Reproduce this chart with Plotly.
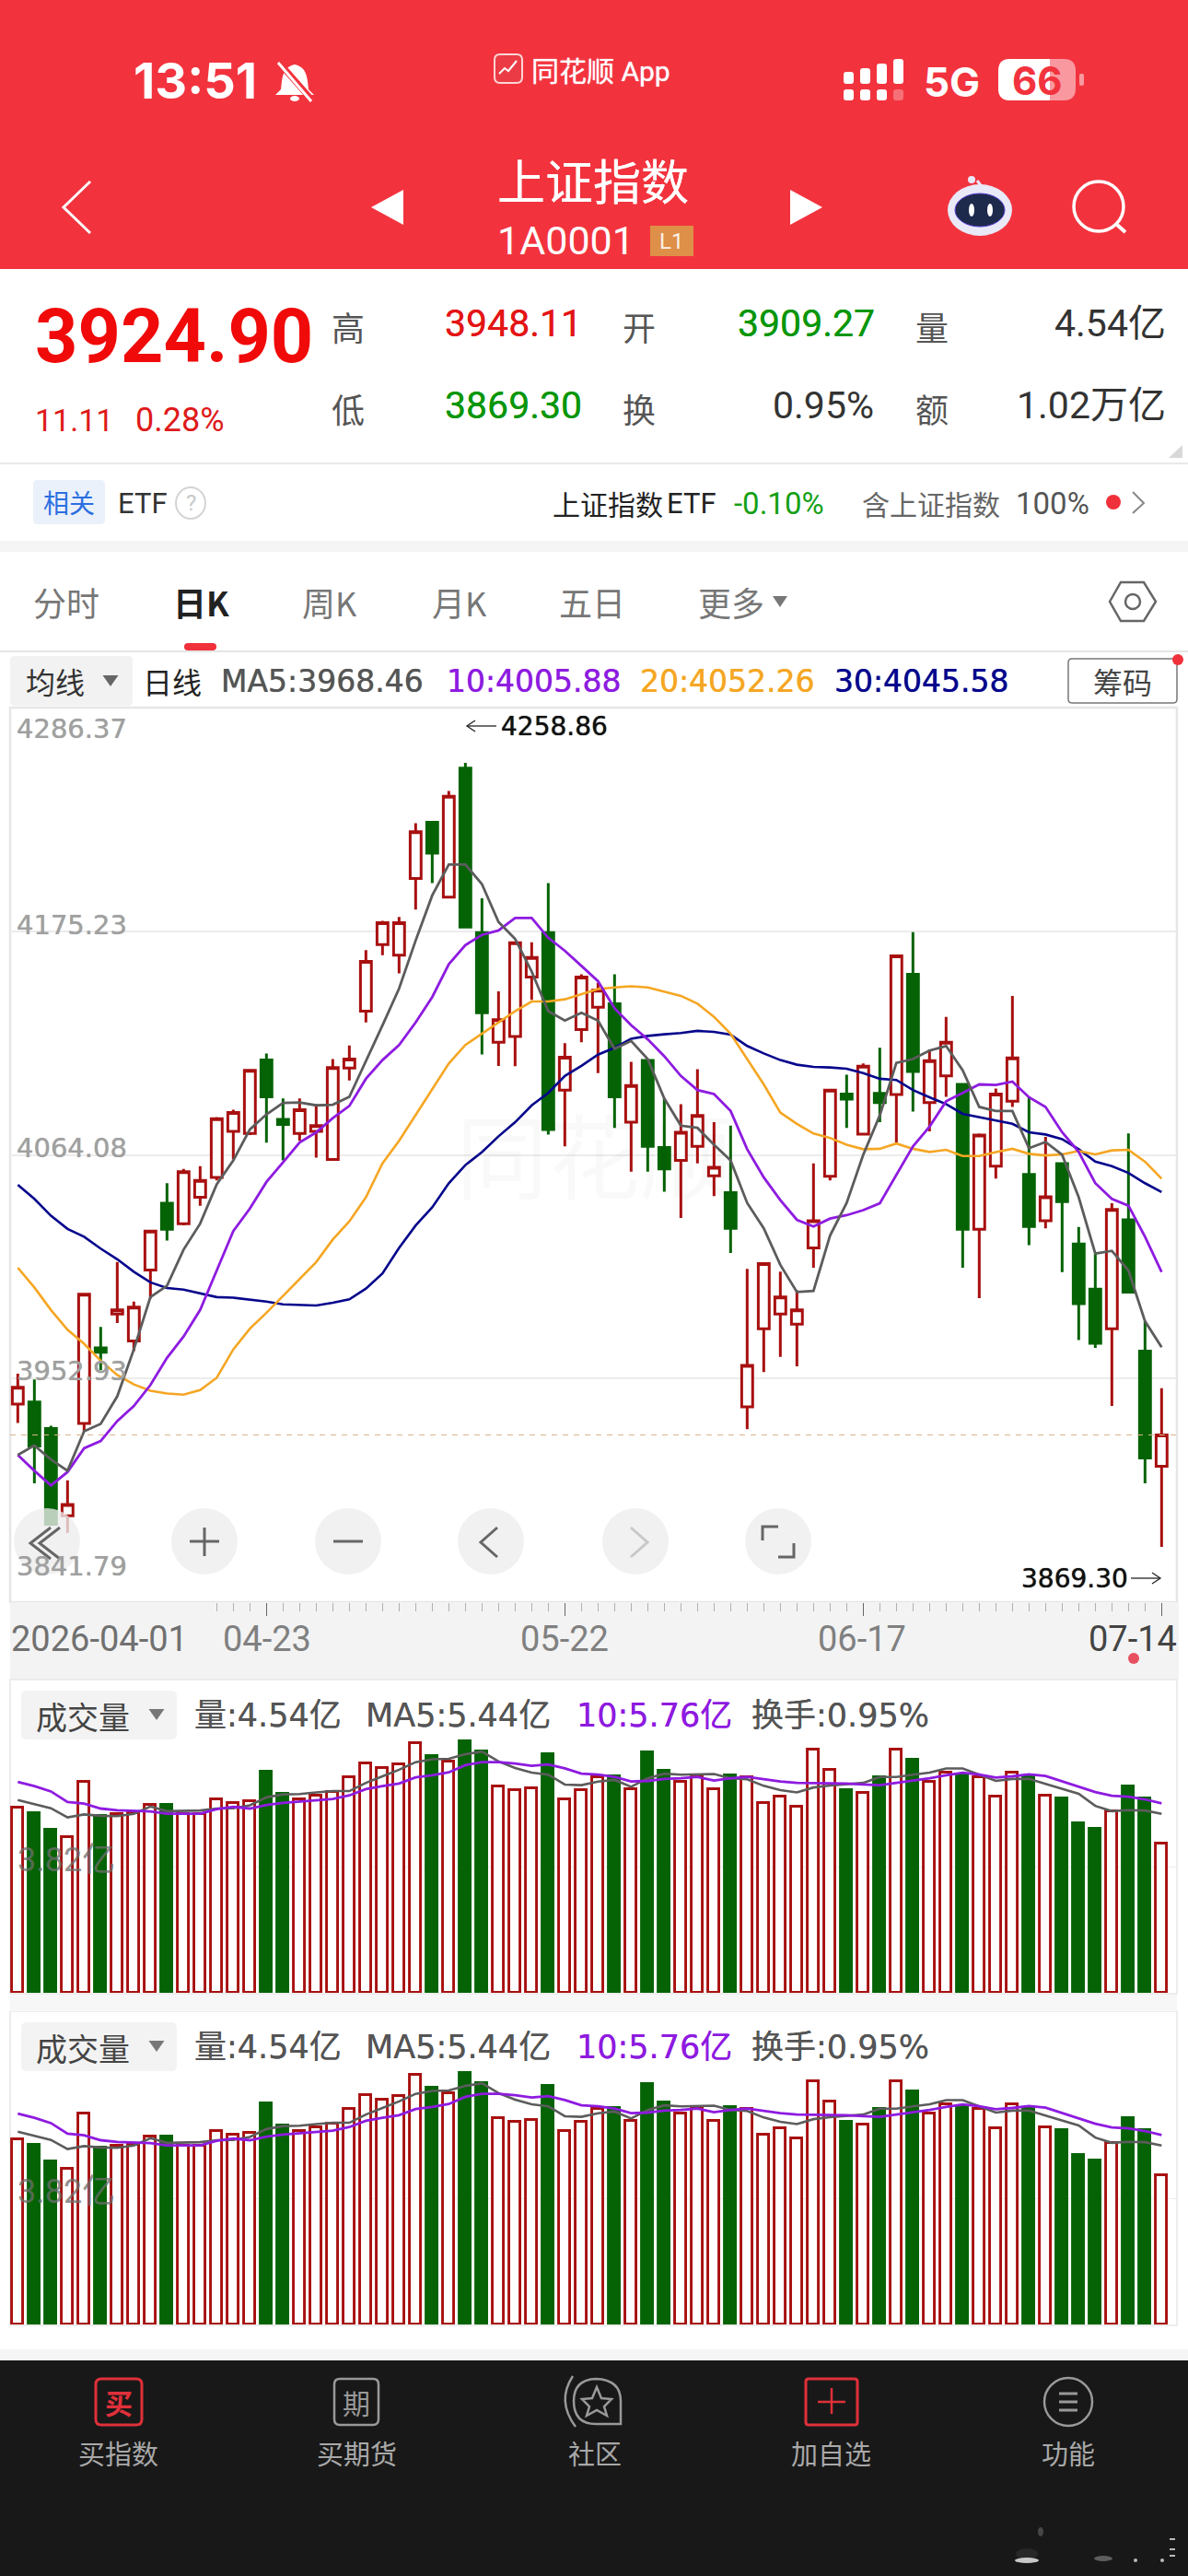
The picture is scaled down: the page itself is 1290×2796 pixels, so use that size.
import plotly.graph_objects as go

# ---- daily bars of the index ----
dates = ["2026-04-01", "04-23", "05-22", "06-17", "07-14"]
date_idx = [15, 33, 51, 69]
open_ = [3940.2,3941.3,3928.1,3884.7,3930.6,3968.2,3985.0,3971.6,4006.9,4040.0,
 4029.9,4043.0,4052.9,4075.8,4074.7,4111.2,4081.7,4074.7,4075.8,4061.8,
 4107.2,4135.5,4168.6,4163.3,4201.4,4229.4,4192.2,4256.3,4174.5,4120.1,
 4122.9,4152.4,4174.5,4096.3,4126.3,4137.5,4139.2,4080.3,4111.0,4067.7,
 4061.3,4068.3,4053.7,4045.3,3938.8,3977.7,3985.0,3980.0,4017.8,4053.4,
 4094.3,4074.4,4094.6,4094.1,4153.8,4090.1,4103.3,4099.1,4027.1,4058.5,
 4090.7,4054.3,4031.3,4059.7,4019.8,3997.4,3977.7,4031.8,3966.5,3909.27]
close = [3948.6,3919.4,3880.5,3890.3,3994.8,3966.0,3987.0,3988.4,4026.2,4027.1,
 4055.7,4051.4,4082.0,4085.1,4106.1,4092.9,4079.2,4086.5,4078.6,4107.5,
 4111.7,4160.2,4179.5,4179.5,4224.7,4214.0,4242.3,4177.3,4134.7,4131.3,
 4169.5,4162.2,4076.7,4112.6,4152.4,4145.9,4092.9,4098.5,4068.3,4057.1,
 4075.3,4083.7,4057.9,4027.6,3959.5,4010.0,3993.4,3987.0,4031.3,4096.3,
 4091.8,4108.1,4090.1,4163.0,4105.5,4110.9,4120.1,4027.1,4073.9,4094.3,
 4112.3,4028.5,4043.3,4040.8,3990.1,3970.4,4036.9,3995.9,3913.5,3924.90]
high = [3955.3,3952.5,3929.5,3902.3,3995.1,3978.6,4010.8,3991.2,4026.8,4050.0,
 4057.1,4058.5,4082.8,4086.5,4106.7,4114.5,4092.1,4092.1,4089.3,4111.7,
 4118.4,4165.8,4180.4,4182.3,4228.9,4230.0,4244.9,4258.86,4191.6,4145.3,
 4170.0,4169.7,4199.2,4119.6,4153.8,4149.6,4153.8,4110.3,4111.2,4092.1,
 4089.3,4106.7,4080.3,4078.6,4007.4,4010.2,4006.0,3996.8,4059.9,4096.9,
 4103.9,4109.5,4117.3,4163.6,4174.8,4116.5,4132.7,4099.7,4074.7,4097.1,
 4143.1,4092.7,4073.0,4059.9,4028.2,4015.0,4040.0,4074.7,3981.4,3948.11]
low = [3930.9,3900.9,3879.9,3876.3,3926.7,3957.0,3980.5,3966.5,3992.6,4021.5,
 4029.0,4038.8,4051.4,4061.8,4073.9,4070.2,4061.3,4071.1,4062.7,4061.3,
 4101.1,4129.9,4163.3,4154.3,4186.0,4199.2,4191.6,4177.1,4114.0,4108.3,
 4108.1,4141.1,4074.2,4068.3,4120.1,4104.7,4077.5,4055.7,4055.7,4045.8,
 4032.7,4059.9,4043.6,4015.3,3927.8,3956.1,3963.7,3959.0,4008.0,4051.4,
 4077.5,4073.9,4080.3,4070.2,4085.6,4075.8,4092.9,4008.0,3992.9,4052.3,
 4087.9,4019.2,4027.6,4005.8,3972.1,3968.2,3939.3,3995.6,3900.9,3869.30]

# ---- moving averages ----
ma5 = [3914.9,3919.7,3912.7,3907.1,3926.7,3930.4,3944.1,3967.4,3993.4,3999.0,
 4017.0,4029.9,4049.5,4061.3,4076.7,4084.2,4089.9,4090.1,4088.7,4089.0,
 4092.9,4110.3,4128.5,4146.7,4170.6,4193.0,4208.4,4208.4,4198.6,4179.8,
 4171.4,4155.2,4135.5,4130.8,4134.7,4130.8,4116.8,4120.7,4111.7,4092.1,
 4078.6,4077.5,4069.1,4061.3,4040.2,4027.6,4009.4,3995.9,3996.5,4024.0,
 4040.2,4064.1,4083.7,4109.8,4111.7,4115.9,4118.2,4106.1,4087.9,4085.9,
 4085.9,4067.4,4070.5,4064.1,4043.0,4015.0,4016.4,4006.6,3981.4,3968.46]
ma10 = [3914.9,3907.1,3899.8,3906.5,3918.3,3921.9,3931.8,3939.3,3949.7,3963.2,
 3973.8,3987.0,4006.6,4026.2,4037.4,4050.6,4060.4,4070.2,4075.3,4082.3,
 4088.4,4101.9,4111.2,4118.7,4129.9,4142.5,4158.8,4168.3,4173.4,4175.6,
 4181.8,4181.8,4172.0,4165.5,4158.0,4150.4,4136.9,4128.5,4121.5,4113.1,
 4103.3,4096.3,4094.3,4085.9,4066.9,4052.9,4041.6,4031.8,4028.5,4032.4,
 4034.1,4036.6,4040.0,4054.3,4068.3,4078.1,4090.7,4094.9,4099.1,4098.8,
 4100.5,4092.7,4087.9,4075.3,4065.5,4050.0,4042.2,4038.8,4023.4,4005.88]
ma20 = [4008.0,3998.2,3987.0,3977.2,3970.2,3961.8,3954.7,3950.0,3946.9,3945.5,
 3944.9,3947.2,3953.3,3967.4,3977.7,3985.6,3994.0,4002.4,4010.8,4022.0,
 4031.0,4043.0,4059.9,4071.1,4083.7,4096.3,4109.5,4118.7,4124.3,4129.9,
 4135.5,4140.3,4140.3,4141.4,4143.9,4146.5,4147.3,4147.9,4147.3,4145.1,
 4143.1,4139.2,4132.7,4124.3,4111.7,4099.1,4085.1,4079.5,4074.7,4072.5,
 4069.1,4066.9,4067.1,4069.7,4067.1,4065.5,4066.6,4063.5,4063.5,4065.5,
 4067.1,4064.6,4063.8,4064.3,4066.0,4064.3,4066.3,4066.6,4060.7,4052.26]
ma30 = [4049.2,4042.2,4033.8,4027.3,4023.4,4017.5,4012.2,4006.0,4000.7,3997.9,
 3997.1,3995.1,3993.4,3993.1,3992.3,3991.2,3989.8,3989.5,3989.2,3990.6,
 3992.3,3997.6,4005.2,4017.8,4029.0,4038.0,4050.0,4059.0,4065.5,4073.3,
 4080.3,4088.7,4094.9,4103.3,4108.3,4113.9,4117.3,4121.8,4123.2,4124.0,
 4124.6,4125.7,4125.2,4123.8,4118.2,4114.5,4111.2,4108.9,4107.8,4107.5,
 4106.9,4104.7,4101.9,4101.3,4096.3,4092.7,4089.3,4084.5,4082.8,4081.4,
 4079.5,4075.3,4074.2,4071.9,4066.9,4060.7,4058.5,4055.1,4050.0,4045.58]

# ---- turnover, in units of 100 million ----
volume = [5.63,5.45,4.95,4.73,6.42,5.37,5.44,5.46,5.70,5.70,
 5.44,5.44,5.88,5.76,5.82,6.71,6.05,5.88,5.99,6.10,
 6.55,6.98,6.83,6.95,7.60,7.19,7.03,7.64,7.34,6.26,
 6.16,6.23,7.26,5.88,6.15,6.54,6.59,6.20,7.31,6.76,
 6.41,6.61,6.19,6.61,6.56,5.76,5.97,5.67,7.40,6.77,
 6.16,6.07,6.56,7.40,7.09,6.42,6.69,6.61,6.56,5.97,
 6.70,6.56,6.00,5.91,5.16,4.98,5.52,6.28,5.91,4.54]
vol_ma5 = [5.86,5.74,5.61,5.33,5.42,5.38,5.37,5.44,5.66,5.52,
 5.52,5.54,5.60,5.61,5.70,5.94,6.03,6.04,6.09,6.13,
 6.13,6.38,6.58,6.78,7.01,7.10,7.11,7.25,7.33,7.03,
 6.83,6.69,6.63,6.33,6.31,6.42,6.47,6.26,6.52,6.66,
 6.63,6.65,6.65,6.52,6.49,6.29,6.16,6.09,6.24,6.30,
 6.35,6.38,6.56,6.56,6.63,6.69,6.82,6.82,6.63,6.44,
 6.50,6.50,6.35,6.21,6.05,5.68,5.52,5.55,5.54,5.44]
vol_ma10 = [6.41,6.28,6.12,5.80,5.75,5.60,5.55,5.53,5.51,5.44,
 5.44,5.44,5.58,5.65,5.60,5.71,5.77,5.81,5.85,5.89,
 6.00,6.19,6.28,6.36,6.55,6.61,6.70,6.92,7.01,7.01,
 6.97,6.90,6.94,6.82,6.66,6.63,6.56,6.42,6.44,6.50,
 6.52,6.56,6.45,6.52,6.56,6.49,6.42,6.38,6.38,6.38,
 6.36,6.33,6.31,6.38,6.44,6.52,6.61,6.69,6.63,6.54,
 6.58,6.64,6.59,6.42,6.26,6.10,5.99,5.96,5.88,5.76]

price_ticks = [4286.37, 4175.23, 4064.08, 3952.93, 3841.79]
price_tick_labels = ["4286.37", "4175.23", "4064.08", "3952.93", "3841.79"]
last_price = 3924.90
vol_tick = 3.82

days = list(range(len(close)))

RED_BG = "#F2333E"
UP = "#A81010"
DOWN = "#056305"
GRAY_MA = "#5C5C5C"
PURPLE = "#8E1BE0"
ORANGE = "#F5A623"
NAVY = "#06068C"
CJK = "Noto Sans CJK SC"
NUM = "Roboto, Noto Sans CJK SC"
WIDE = "DejaVu Sans, Noto Sans CJK SC"

shapes, notes = [], []


def rect(x0, y0, x1, y1, fill, line=None, lw=0, layer="below"):
    shapes.append(dict(type="rect", xref="x", yref="y", x0=x0, y0=y0, x1=x1, y1=y1, fillcolor=fill,
                       line=dict(color=line or "rgba(0,0,0,0)", width=lw), layer=layer))


def path(d, fill="rgba(0,0,0,0)", line=None, lw=0, layer="below"):
    shapes.append(dict(type="path", xref="x", yref="y", path=d, fillcolor=fill,
                       line=dict(color=line or "rgba(0,0,0,0)", width=lw), layer=layer))


def rrect(x0, y0, x1, y1, r, fill="rgba(0,0,0,0)", line=None, lw=0, layer="below"):
    d = (f"M {x0+r} {y0} L {x1-r} {y0} Q {x1} {y0} {x1} {y0+r} L {x1} {y1-r} Q {x1} {y1} {x1-r} {y1} "
         f"L {x0+r} {y1} Q {x0} {y1} {x0} {y1-r} L {x0} {y0+r} Q {x0} {y0} {x0+r} {y0} Z")
    path(d, fill, line, lw, layer)


def ellipse(cx, cy, rx, ry, fill="rgba(0,0,0,0)", line=None, lw=0, layer="below"):
    shapes.append(dict(type="circle", xref="x", yref="y", x0=cx-rx, x1=cx+rx, y0=cy-ry, y1=cy+ry, fillcolor=fill,
                       line=dict(color=line or "rgba(0,0,0,0)", width=lw), layer=layer))


def seg(x0, y0, x1, y1, color, lw=1, layer="below", dash=None):
    shapes.append(dict(type="line", xref="x", yref="y", x0=x0, y0=y0, x1=x1, y1=y1, layer=layer,
                       line=dict(color=color, width=lw, dash=dash or "solid")))


def tri(cx, cy, w, h, color):
    path(f"M {cx-w/2} {cy-h/2} L {cx+w/2} {cy-h/2} L {cx} {cy+h/2} Z", color)


def text(x, y, s, size, color, anchor="center", family=CJK, bold=False, heavy=0):
    font = dict(size=size, color=color, family=family)
    if heavy:
        # a tight halo thickens regular faces to a medium weight
        font["shadow"] = f"0 0 {heavy}px {color}"
    notes.append(dict(xref="x", yref="y", x=x, y=y, text=f"<b>{s}</b>" if bold else s, showarrow=False,
                      xanchor=anchor, yanchor="middle", borderpad=0, font=font))


def arrow(x_tail, x_head, y):
    d = 9 if x_head > x_tail else -9
    seg(x_tail, y, x_head, y, "#222222", 1.3, "above")
    path(f"M {x_head-d} {y-6} L {x_head} {y} L {x_head-d} {y+6}", line="#222222", lw=1.3, layer="above")


# ---- header ----
rect(0, 0, 1290, 292, RED_BG)
text(212, 87, "13:51", 54, "white", family="Inter, Roboto", bold=True)
path("M 320 70 Q 308 72 306 88 L 305 97 L 299 103 L 341 103 L 335 97 L 334 88 Q 332 72 320 70 Z", "white")
ellipse(320, 107, 5, 3, "white")
seg(303, 68, 340, 110, RED_BG, 7)
seg(302, 68, 338, 110, "white", 3)
rrect(537, 59, 567, 90, 6, "rgba(235,60,70,1)", "rgba(255,230,230,0.9)", 2)
path("M 542 80 L 548 74 L 552 77 L 561 66", line="white", lw=2)
text(652, 77, "同花顺 App", 30, "rgba(255,255,255,0.97)", family=NUM, heavy=1)

for cx, top in zip([916, 934, 952, 970], [78, 74, 69, 64]):
    rrect(cx, top, cx+11, 91, 3, "white")
    rrect(cx, 97, cx+11, 109, 3, "white" if cx < 970 else "rgba(255,255,255,0.3)")
text(1033, 89, "5G", 44, "white", family="Inter, Roboto", bold=True)
rrect(1084, 64, 1168, 109, 13, "rgba(255,255,255,0.5)")
path("M 1097 64 L 1140 64 L 1140 109 L 1097 109 Q 1084 109 1084 96 L 1084 77 Q 1084 64 1097 64 Z", "white")
rrect(1172, 80, 1177, 93, 2, "rgba(255,255,255,0.5)")
text(1126, 87, "66", 42, RED_BG, family="Inter, Roboto", bold=True)

path("M 98 197 L 69 225 L 98 253", line="white", lw=3)
text(644, 194, "上证指数", 52, "white", heavy=0.6)
text(614, 261, "1A0001", 43, "white", family=NUM)
rect(706, 245, 753, 278, "#DE9048")
text(729, 262, "L1", 24, "rgba(255,255,255,0.9)", family=NUM)
path("M 438 206 L 403 225 L 438 244 Z", "white")
path("M 858 206 L 893 225 L 858 244 Z", "white")

# assistant badge and search glass
seg(1061, 196, 1067, 204, "#E8E8F8", 3)
ellipse(1055, 195, 4, 4, "#E8E8F8")
ellipse(1064, 228, 35, 28, "#E9E9F8")
ellipse(1064, 228, 27, 18, "#1D2A4C", "#5B3FD0", 1)
ellipse(1055, 228, 3, 7, "white")
ellipse(1075, 228, 3, 7, "white")
ellipse(1193, 224, 27, 27, line="white", lw=3.5)
seg(1213, 244, 1222, 252, "white", 4)

# ---- quote block ----
text(37, 365, "3924.90", 81, "#F00A0A", "left", NUM, True)
text(37, 456, "11.11", 34, "#DE1A1A", "left", NUM)
text(146, 456, "0.28%", 36, "#DE1A1A", "left", NUM)
for x, y, s in [(378, 354, "高"), (694, 354, "开"), (1012, 354, "量"), (378, 443, "低"), (694, 443, "换"), (1012, 443, "额")]:
    text(x, y, s, 36, "#555555")
text(557, 351, "3948.11", 41, "#E31515", family=NUM, heavy=0.5)
text(875, 351, "3909.27", 41, "#0A960A", family=NUM, heavy=0.5)
text(557, 440, "3869.30", 41, "#0A960A", family=NUM, heavy=0.5)
text(950, 440, "0.95%", 41, "#333333", "right", NUM)
text(1267, 351, "4.54亿", 41, "#333333", "right", NUM)
text(1267, 440, "1.02万亿", 41, "#333333", "right", NUM)
path("M 1284 483 L 1284 497 L 1269 497 Z", "#D8D8D8")
seg(0, 503, 1290, 503, "#E9E9E9", 2)

# ---- ETF strip ----
rrect(36, 521, 114, 569, 5, "#EAF1FB")
text(75, 545, "相关", 28, "#2B6FE0")
text(127, 546, "ETF", 31, "#333333", "left", NUM)
ellipse(207, 546, 16, 17, line="#D4D4D4", lw=2)
text(207, 546, "?", 24, "#C8C8C8", family=NUM)
text(599, 546, "上证指数", 30, "#222222", "left")
text(723, 546, "ETF", 31, "#222222", "left", NUM)
text(796, 546, "-0.10%", 33, "#14A014", "left", NUM)
text(935, 546, "含上证指数", 30, "#666666", "left")
text(1102, 546, "100%", 33, "#555555", "left", NUM)
ellipse(1209, 545, 8, 8, "#F0303A")
path("M 1230 534 L 1242 546 L 1230 557", line="#888888", lw=2)
rect(0, 587, 1290, 599, "#F5F5F5")

# ---- period tabs ----
for cx, s in [(72, "分时"), (358, "周K"), (499, "月K"), (643, "五日"), (794, "更多")]:
    text(cx, 653, s, 36, "#777777")
tri(847, 653, 16, 12, "#777777")
text(218, 653, "日K", 36, "#222222", bold=True)
rrect(200, 698, 235, 706, 4, "#F0303A")
path("M 1205 653 L 1217 632 L 1242 632 L 1255 653 L 1242 674 L 1217 674 Z", line="#666666", lw=2.5)
ellipse(1230, 653, 8, 8, line="#666666", lw=2.5)
seg(0, 707, 1290, 707, "#E5E5E5", 2)

# ---- indicator caption row ----
rrect(11, 712, 144, 766, 5, "#F2F2F2")
text(60, 739, "均线", 32, "#333333")
tri(120, 739, 17, 12, "#666666")
text(187, 739, "日线", 32, "#222222")
text(239, 739, "MA5:3968.46", 33, "#555555", "left", WIDE, heavy=0.7)
text(484, 739, "10:4005.88", 33, PURPLE, "left", WIDE, heavy=0.7)
text(694, 739, "20:4052.26", 33, ORANGE, "left", WIDE, heavy=0.7)
text(905, 739, "30:4045.58", 33, NAVY, "left", WIDE, heavy=0.7)
rrect(1160, 715, 1278, 763, 4, "white", "#777777", 1.5)
text(1219, 739, "筹码", 32, "#444444")
ellipse(1279, 716, 6, 6, "#F0303A")

# ---- price panel frame and captions ----
rect(11, 768, 1278, 1739, "white", "#E6E6E6", 2.5)
rect(11, 1739, 1280, 1823, "#F3F3F3")
text(645, 1250, "同花顺", 100, "rgba(0,0,0,0.022)")
for y, s in zip([791, 1004, 1246, 1488, 1700], price_tick_labels):
    text(17, y, s, 29, "#A0A0A0", "left", WIDE, heavy=0.8)
text(543, 788, "4258.86", 28, "#111111", "left", WIDE, heavy=0.9)
arrow(539, 507, 788)
text(1108, 1713, "3869.30", 28, "#111111", "left", WIDE, heavy=0.9)
arrow(1228, 1260, 1713)

# ---- zoom and pan controls over the chart ----
BTN = "rgba(237,237,237,0.78)"
for cx in [51, 222, 378, 533, 690, 845]:
    ellipse(cx, 1673, 36, 36, BTN, layer="above")
path("M 55 1658 L 33 1675 L 55 1692", line="#666666", lw=3, layer="above")
path("M 65 1658 L 43 1675 L 65 1692", line="#666666", lw=3, layer="above")
seg(206, 1673, 238, 1673, "#666666", 3, "above")
seg(222, 1658, 222, 1689, "#666666", 3, "above")
seg(362, 1673, 394, 1673, "#666666", 3, "above")
path("M 540 1658 L 522 1674 L 540 1690", line="#666666", lw=3, layer="above")
path("M 685 1658 L 703 1674 L 685 1690", line="#C8C8C8", lw=3, layer="above")
path("M 828 1672 L 828 1657 L 845 1657", line="#666666", lw=3, layer="above")
path("M 845 1690 L 862 1690 L 862 1675", line="#666666", lw=3, layer="above")

# ---- date strip ----
for x, s in [(290, dates[1]), (613, dates[2]), (936, dates[3])]:
    text(x, 1779, s, 38, "#808080", family=NUM)
text(11, 1779, dates[0], 38, "#707070", "left", NUM)
text(1279, 1779, dates[4], 38, "#444444", "right", NUM)
ellipse(1231, 1800, 6, 6, "#E85060", layer="above")

# ---- turnover panels ----
for dy in (0, 360):
    rect(11, 1823+dy, 1278, 2164+dy, "white", "#E8E8E8", 1.5)
    rrect(23, 1835+dy, 192, 1888+dy, 6, "#F3F3F3")
    text(90, 1862+dy, "成交量", 34, "#444444")
    tri(170, 1861+dy, 17, 12, "#777777")
    text(210, 1862+dy, "量:4.54亿", 35, "#555555", "left", WIDE, heavy=0.6)
    text(396, 1862+dy, "MA5:5.44亿", 35, "#555555", "left", WIDE, heavy=0.6)
    text(625, 1862+dy, "10:5.76亿", 35, PURPLE, "left", WIDE, heavy=0.6)
    text(815, 1862+dy, "换手:0.95%", 35, "#555555", "left", WIDE, heavy=0.6)
    text(18, 2019+dy, "3.82亿", 36, "rgba(110,110,110,0.75)", "left", NUM)
rect(0, 2164, 11, 2183, "white")
rect(11, 2165, 1278, 2183, "#F7F7F7")
rect(0, 2550, 1290, 2562, "#F5F5F5")

# ---- bottom toolbar ----
rect(0, 2562, 1290, 2796, "#181818")
NAV = "#A8A8A8"
NAV_RED = "#E0303A"
for x, s in zip([128, 387, 646, 902, 1160], ["买指数", "买期货", "社区", "加自选", "功能"]):
    text(x, 2662, s, 29, NAV)
rrect(104, 2582, 154, 2632, 6, line=NAV_RED, lw=3)
text(129, 2607, "买", 30, NAV_RED, bold=True)
rrect(363, 2582, 411, 2632, 6, line="#999999", lw=2.5)
text(387, 2607, "期", 30, "#999999")
path("M 623 2606 Q 623 2583 647 2582 Q 674 2583 674 2606 L 674 2631 L 647 2631 Q 623 2631 623 2606 Z", line="#999999", lw=2.5)
path("M 622 2579 Q 604 2606 625 2634", line="#999999", lw=2.5)
path("M 648 2591 L 653 2603 L 664 2604 L 656 2612 L 659 2622 L 648 2616 L 637 2622 L 640 2612 L 632 2604 L 643 2603 Z", line="#999999", lw=2.5)
rrect(875, 2582, 931, 2632, 3, line=NAV_RED, lw=3)
seg(888, 2607, 918, 2607, NAV_RED, 2.5)
seg(903, 2592, 903, 2620, NAV_RED, 2.5)
ellipse(1160, 2607, 26, 26, line="#999999", lw=2.5)
for y in (2598, 2607, 2616):
    seg(1150, y, 1170, y, "#999999", 3)

# faint mark in the lower corner of the toolbar
ellipse(1115, 2779, 13, 3, "#C8C8C8")
ellipse(1115, 2772, 12, 6, "rgba(255,255,255,0.07)")
ellipse(1130, 2748, 3, 5, "rgba(255,255,255,0.2)")
ellipse(1198, 2777, 10, 3, "rgba(255,255,255,0.3)")
ellipse(1233, 2779, 2, 2, "rgba(255,255,255,0.7)")
ellipse(1262, 2779, 2, 2, "rgba(255,255,255,0.7)")
for y in (2755, 2766, 2773):
    rect(1270, y, 1276, y+2, "rgba(255,255,255,0.7)")

fig = go.Figure()
# invisible anchor so that the full-page drawing axes are created
fig.add_trace(go.Scatter(x=[0], y=[0], mode="markers", marker=dict(size=1, opacity=0), hoverinfo="skip",
                         showlegend=False, xaxis="x", yaxis="y"))

fig.add_trace(go.Candlestick(x=days, open=open_, high=high, low=low, close=close, xaxis="x2", yaxis="y2",
                             increasing=dict(line=dict(color=UP, width=3), fillcolor="white"),
                             decreasing=dict(line=dict(color=DOWN, width=3), fillcolor=DOWN),
                             showlegend=False, hoverinfo="skip"))
for series, color, w in [(ma30, NAVY, 2.6), (ma20, ORANGE, 2.6), (ma10, PURPLE, 2.8), (ma5, GRAY_MA, 2.8)]:
    fig.add_trace(go.Scatter(x=days, y=series, mode="lines", line=dict(color=color, width=w), xaxis="x2", yaxis="y2",
                             showlegend=False, hoverinfo="skip", connectgaps=True))

bar_line = [UP if c >= o else DOWN for o, c in zip(open_, close)]
bar_fill = ["white" if c >= o else DOWN for o, c in zip(open_, close)]
for xa, ya in [("x3", "y3"), ("x4", "y4")]:
    fig.add_trace(go.Bar(x=days, y=volume, width=0.66, marker=dict(color=bar_fill, line=dict(color=bar_line, width=2.9)),
                         xaxis=xa, yaxis=ya, showlegend=False, hoverinfo="skip", cliponaxis=False))
    fig.add_trace(go.Scatter(x=days, y=vol_ma5, mode="lines", line=dict(color=GRAY_MA, width=2.6), xaxis=xa, yaxis=ya,
                             showlegend=False, hoverinfo="skip"))
    fig.add_trace(go.Scatter(x=days, y=vol_ma10, mode="lines", line=dict(color=PURPLE, width=2.8), xaxis=xa, yaxis=ya,
                             showlegend=False, hoverinfo="skip"))

W, H = 1290, 2796
x_dom = [11 / W, 1278 / W]
x_rng = [(11 - 19.33) / 18, (1278 - 19.33) / 18]


def y_dom(top, bottom):
    return [1 - bottom / H, 1 - top / H]


hidden = dict(visible=False, fixedrange=True)
cat_axis = dict(domain=x_dom, range=x_rng, showgrid=False, zeroline=False, showline=False, showticklabels=False,
                fixedrange=True, ticks="")

# a full-page axis pair carries the page chrome in pixel units
fig.update_layout(
    width=W, height=H, margin=dict(l=0, r=0, t=0, b=0), autosize=False,
    paper_bgcolor="white", plot_bgcolor="rgba(0,0,0,0)", showlegend=False,
    boxgap=0.34, boxgroupgap=0, bargap=0, barmode="overlay",
    shapes=shapes, annotations=notes,
    xaxis=dict(domain=[0, 1], range=[0, W], **hidden),
    yaxis=dict(domain=[0, 1], range=[H, 0], **hidden),
    xaxis2=dict(anchor="y2", rangeslider=dict(visible=False), domain=x_dom, range=x_rng, showgrid=False,
                zeroline=False, showline=False, showticklabels=False, fixedrange=True,
                tickmode="array", tickvals=date_idx, ticks="outside", ticklen=14, tickcolor="#666666", tickwidth=1.2,
                minor=dict(tickmode="array", tickvals=list(range(12, 70)), ticks="outside", ticklen=9,
                           tickcolor="#B0B0B0", tickwidth=1, showgrid=False)),
    yaxis2=dict(anchor="x2", domain=y_dom(768, 1739), range=[price_ticks[-1], price_ticks[0]], tickmode="array",
                tickvals=price_ticks, showticklabels=False, ticks="", showgrid=True, gridcolor="#ECECEC", gridwidth=1.5,
                zeroline=False, fixedrange=True),
    xaxis3=dict(anchor="y3", **cat_axis),
    yaxis3=dict(anchor="x3", domain=y_dom(1823, 2163), range=[0, 9.52], tickmode="array", tickvals=[vol_tick],
                showticklabels=False, ticks="", showgrid=True, gridcolor="#ECECEC", zeroline=False, fixedrange=True),
    xaxis4=dict(anchor="y4", **cat_axis),
    yaxis4=dict(anchor="x4", domain=y_dom(2183, 2523), range=[0, 9.52], tickmode="array", tickvals=[vol_tick],
                showticklabels=False, ticks="", showgrid=True, gridcolor="#ECECEC", zeroline=False, fixedrange=True),
)

# dashed level of the latest price across the chart
fig.add_shape(type="line", xref="x2", yref="y2", x0=x_rng[0], x1=x_rng[1], y0=last_price, y1=last_price,
              line=dict(color="#D8B48A", width=1.2, dash="6px,6px"), layer="above")

fig.write_html("out.html", config=dict(displayModeBar=False))
